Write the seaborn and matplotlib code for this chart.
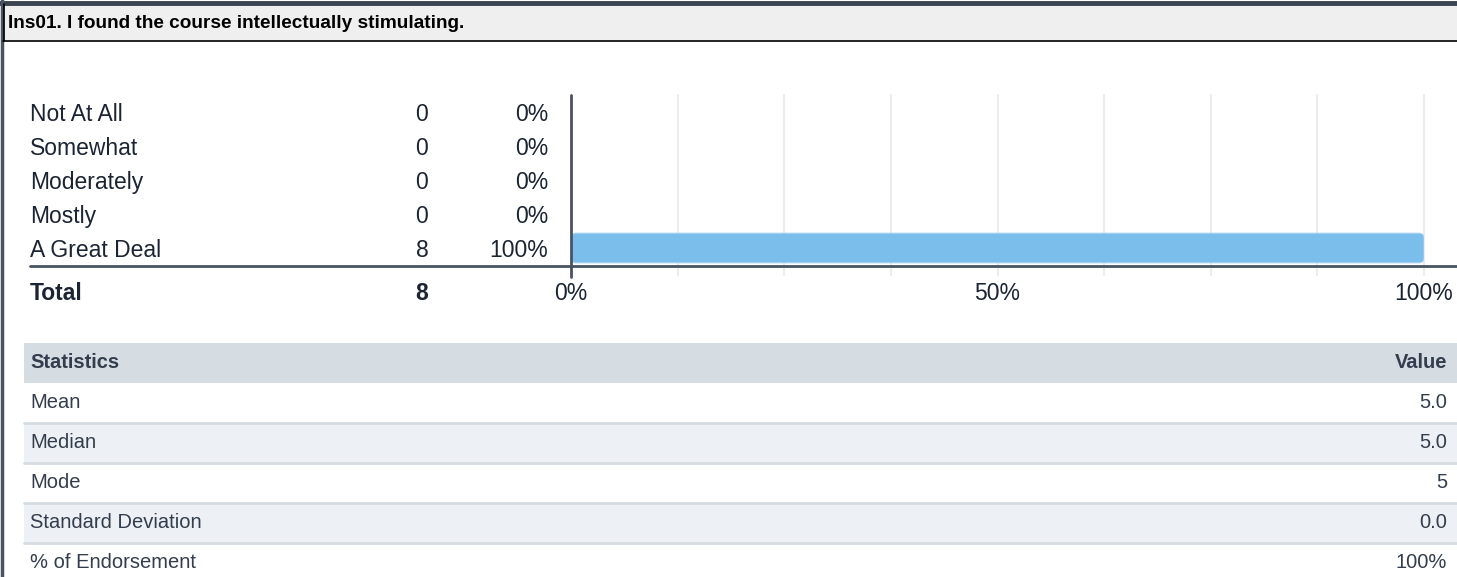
import matplotlib
matplotlib.use("Agg")
import matplotlib.pyplot as plt
import matplotlib.transforms as mtransforms
from matplotlib.patches import FancyBboxPatch, Rectangle
from matplotlib.lines import Line2D
import seaborn as sns
import pandas as pd

# data
title = "Ins01. I found the course intellectually stimulating."
responses = ["Not At All", "Somewhat", "Moderately", "Mostly", "A Great Deal"]
counts = [0, 0, 0, 0, 8]
percents = [0, 0, 0, 0, 100]
total = 8
tick_vals = [0, 50, 100]
stat_names = ["Mean", "Median", "Mode", "Standard Deviation", "% of Endorsement"]
stat_values = ["5.0", "5.0", "5", "0.0", "100%"]

W, H = 1457, 577
sns.set_theme(style="white")
plt.rcParams['font.family'] = ['Liberation Sans', 'DejaVu Sans']

fig = plt.figure(figsize=(W / 100, H / 100), dpi=100)
fig.patch.set_facecolor("white")

# pixel transform: (x px from left, y px from top)
px = mtransforms.Affine2D().scale(1 / W, -1 / H).translate(0, 1) + fig.transFigure

text_col = "#1b2433"
axis_col = "#4a5362"
fs_title = 13.7
fs_chart = 16.5
fs_tab = 14.5

# frame + title bar
fig.patches.append(Rectangle((3, 5), W, 36, transform=px, facecolor="#efefef",
                             edgecolor="none", zorder=0))
fig.lines.append(Line2D([0, W], [2.5, 2.5], transform=px, color="#3b4250", lw=3.5))
fig.lines.append(Line2D([2, 2], [0, H], transform=px, color="#4a5362", lw=2.5))
fig.lines.append(Line2D([3, W], [40.5, 40.5], transform=px, color="black", lw=1.2))
fig.lines.append(Line2D([3.5, 3.5], [4, 41], transform=px, color="black", lw=1.2))
fig.text(8, 23, title, transform=px, fontsize=fs_title, fontweight="bold", color="black",
         va="center", ha="left")

# bar chart
ax = fig.add_axes([571 / W, (H - 265) / H, 853 / W, 170 / H])
df = pd.DataFrame({"Response": responses, "Percent": percents})
sns.barplot(data=df, x="Percent", y="Response", orient="h", ax=ax,
            color="#7bbdeb", width=0.87, saturation=1)
ax.set_xlim(0, 100)
ax.set_ylim(len(responses) - 0.5, -0.5)
ax.set_xlabel("")
ax.set_ylabel("")
ax.set_xticks([])
ax.set_yticks([])
for s in ax.spines.values():
    s.set_visible(False)
ax.patch.set_alpha(0)

# rounded bars
xpp = 853 / 100
ypp = 170 / len(responses)
for p in list(ax.patches):
    x0, y0, w, h = p.get_x(), p.get_y(), p.get_width(), p.get_height()
    p.remove()
    if w > 0:
        ax.add_patch(FancyBboxPatch((x0, y0), w, h,
                                    boxstyle="round,pad=0,rounding_size=0.6",
                                    mutation_aspect=xpp / ypp,
                                    facecolor="#7bbdeb", edgecolor="#a8d3f3",
                                    lw=0.8, zorder=2))

# gridlines
for g in [12.5, 25, 37.5, 50, 62.5, 75, 87.5, 100]:
    ax.axvline(g, ymin=-0.06, ymax=1, clip_on=False, color="#ebebf0", lw=1.5, zorder=0)
ax.axvline(0, ymin=-0.07, ymax=1, clip_on=False, color=axis_col, lw=2, zorder=3)

# baseline across the whole table
fig.lines.append(Line2D([30, W], [265.5, 265.5], transform=px, color=axis_col, lw=2))

# row labels
lab = mtransforms.blended_transform_factory(px, ax.transData)
for i, (r, c, p) in enumerate(zip(responses, counts, percents)):
    ax.text(30, i + 0.06, r, transform=lab, fontsize=fs_chart, color=text_col, va="center", ha="left")
    ax.text(422, i + 0.06, str(c), transform=lab, fontsize=fs_chart, color=text_col, va="center", ha="center")
    ax.text(548, i + 0.06, f"{p}%", transform=lab, fontsize=fs_chart, color=text_col, va="center", ha="right")

# total + tick labels
fig.text(30, 293, "Total", transform=px, fontsize=fs_chart, fontweight="bold", color=text_col,
         va="center", ha="left")
fig.text(422, 293, str(total), transform=px, fontsize=fs_chart, fontweight="bold", color=text_col,
         va="center", ha="center")
tk = mtransforms.blended_transform_factory(ax.transData, px)
for t in tick_vals:
    ax.text(t, 293, f"{t}%", transform=tk, fontsize=fs_chart, color=text_col, va="center", ha="center")

# statistics table
tab_col = "#333d4d"
fig.patches.append(Rectangle((24, 343), W - 24, 40, transform=px, facecolor="#d6dde2",
                             edgecolor="none", zorder=0))
fig.text(30, 363, "Statistics", transform=px, fontsize=fs_tab, fontweight="bold", color=tab_col,
         va="center", ha="left")
fig.text(1447, 363, "Value", transform=px, fontsize=fs_tab, fontweight="bold", color=tab_col,
         va="center", ha="right")
for i, (n, v) in enumerate(zip(stat_names, stat_values)):
    top = 383 + i * 40
    if i % 2 == 1:
        fig.patches.append(Rectangle((24, top), W - 24, 40, transform=px, facecolor="#edf1f5",
                                     edgecolor="none", zorder=0))
    if i > 0:
        fig.lines.append(Line2D([24, W], [top, top], transform=px, color="#d6dde2", lw=2))
    fig.text(30, top + 20, n, transform=px, fontsize=fs_tab, color=tab_col, va="center", ha="left")
    fig.text(1447, top + 20, v, transform=px, fontsize=fs_tab, color=tab_col, va="center", ha="right")

fig.savefig("out.png", dpi=100)
